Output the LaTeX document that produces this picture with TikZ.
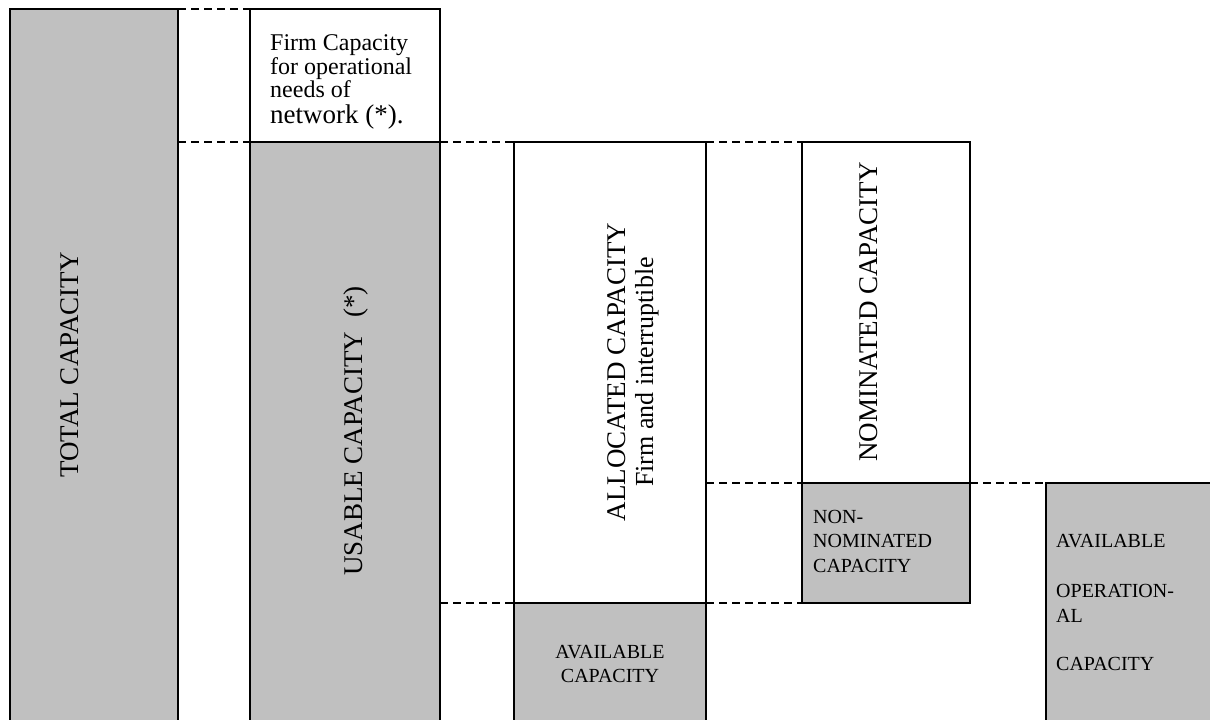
\documentclass[tikz,border=0pt]{standalone}
\usepackage{fontspec}
\setmainfont{Liberation Serif}
\definecolor{capgray}{RGB}{192,192,192}
\begin{document}
\begin{tikzpicture}[x=1pt,y=-1pt,
  capbox/.style={draw=black, line width=1.6pt, inner sep=0pt, outer sep=0pt,
    anchor=north west, minimum width=#1},
  grey/.style={fill=capgray},
  white/.style={fill=white},
  level/.style={draw=black, line width=1.4pt, dash pattern=on 8pt off 5pt},
  big/.style={font=\fontsize{27}{30}\selectfont, inner sep=0pt, rotate=90, anchor=base},
  mid/.style={font=\fontsize{24}{24}\selectfont, inner sep=0pt, anchor=base west},
  small/.style={font=\fontsize{20}{24}\selectfont, inner sep=0pt}]
\useasboundingbox (0,0) rectangle (1210,720);
\clip (0,0) rectangle (1210,720);

% capacity blocks
\node[capbox=168pt, grey,  minimum height=721pt] (total)   at (10,9)    {};
\node[capbox=190pt, white, minimum height=133pt] (firm)    at (250,9)   {};
\node[capbox=190pt, grey,  minimum height=588pt] (usable)  at (250,142) {};
\node[capbox=192pt, white, minimum height=461pt] (alloc)   at (514,142) {};
\node[capbox=192pt, grey,  minimum height=127pt] (avail)   at (514,603) {};
\node[capbox=168pt, white, minimum height=341pt] (nom)     at (802,142) {};
\node[capbox=168pt, grey,  minimum height=120pt] (nonnom)  at (802,483) {};
\node[capbox=174pt, grey,  minimum height=247pt] (availop) at (1046,483) {};

% dashed level lines between blocks
\draw[level] (total.north east) -- (firm.north west);
\draw[level] (usable.north west -| total.east) -- (usable.north west);
\draw[level] (usable.north east) -- (alloc.north west);
\draw[level] (alloc.north east) -- (nom.north west);
\draw[level] (avail.north west -| usable.east) -- (avail.north west);
\draw[level] (avail.north east) -- (nonnom.south west);
\draw[level] (nonnom.north west -| alloc.east) -- (nonnom.north west);
\draw[level] (nonnom.north east) -- (availop.north west);

% vertical labels
\node[big] (ttotal)  at (78,365)  {TOTAL CAPACITY};
\node[big] (tusable) at (362,431) {USABLE CAPACITY\hspace{14pt}(*)};
\node[big] (talloc)  at (625,372) {ALLOCATED CAPACITY};
\node[big, font=\fontsize{26}{30}\selectfont] (talloc2) at (653,372) {Firm and interruptible};
\node[big] (tnom)    at (877,312) {NOMINATED CAPACITY};

% firm capacity note
\node[mid] (firm1) at (270,50)  {Firm Capacity};
\node[mid] (firm2) at (270,74)  {for operational};
\node[mid] (firm3) at (270,97)  {needs of};
\node[mid, font=\fontsize{27}{27}\selectfont] (firm4) at (270,123) {network (*).};

% small labels
\node[small, anchor=base] (tavail1) at (610,658) {AVAILABLE};
\node[small, anchor=base] (tavail2) at (610,682) {CAPACITY};

\node[small, anchor=base west] (tnon1) at (813,523) {NON-};
\node[small, anchor=base west] (tnon2) at (813,547) {NOMINATED};
\node[small, anchor=base west] (tnon3) at (813,572) {CAPACITY};

\node[small, anchor=base west] (top1) at (1056,547) {AVAILABLE};
\node[small, anchor=base west] (top2) at (1056,597) {OPERATION-};
\node[small, anchor=base west] (top3) at (1056,622) {AL};
\node[small, anchor=base west] (top4) at (1056,670) {CAPACITY};
\end{tikzpicture}
\end{document}
